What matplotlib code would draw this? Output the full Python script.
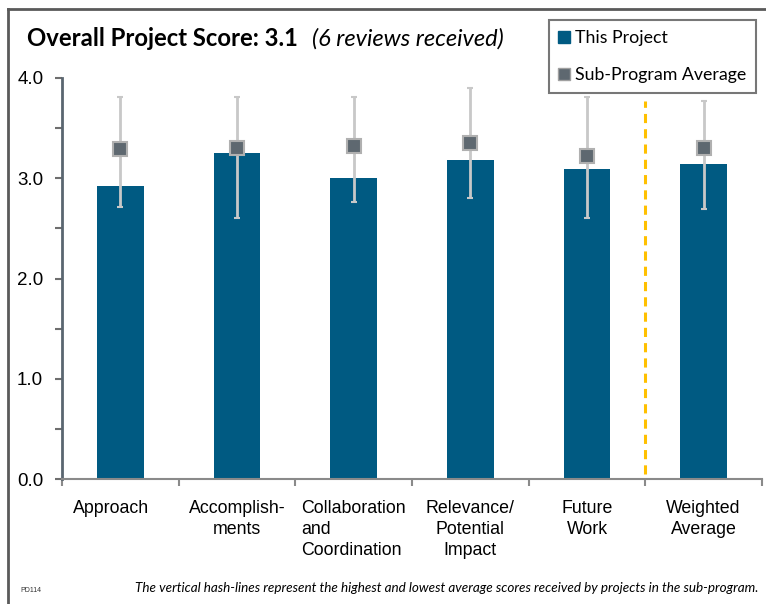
import matplotlib.pyplot as plt
from matplotlib.lines import Line2D
from matplotlib.ticker import MultipleLocator, FixedLocator

# data
categories = ['Approach', 'Accomplish-\nments', 'Collaboration\nand\nCoordination',
              'Relevance/\nPotential\nImpact', 'Future\nWork', 'Weighted\nAverage']
project_score = [2.92, 3.25, 3.00, 3.18, 3.09, 3.14]
subprogram_avg = [3.29, 3.30, 3.32, 3.35, 3.22, 3.30]
subprogram_high = [3.81, 3.81, 3.81, 3.90, 3.81, 3.77]
subprogram_low = [2.71, 2.60, 2.76, 2.80, 2.60, 2.69]

bar_color = '#005A82'
sq_color = '#5E6870'
err_color = '#C8C8C8'

plt.rcParams['font.family'] = ['Liberation Sans', 'DejaVu Sans']

fig = plt.figure(figsize=(7.66, 6.04), dpi=100)
ax = fig.add_axes([62 / 766, 1 - 479 / 604, 700 / 766, 401 / 604])

x = list(range(len(categories)))
ax.bar(x, project_score, width=0.4, color=bar_color, zorder=2)

lower = [a - l for a, l in zip(subprogram_avg, subprogram_low)]
upper = [h - a for a, h in zip(subprogram_avg, subprogram_high)]
ax.errorbar(x, subprogram_avg, yerr=[lower, upper], fmt='s', markersize=10,
            markerfacecolor=sq_color, markeredgecolor='#B0B0B0', markeredgewidth=1.5,
            ecolor=err_color, elinewidth=2, capsize=2, capthick=2, zorder=3)

# dashed separator before weighted average
ax.plot([4.5, 4.5], [0.05, 3.77], color='#FFC000', linestyle=(0, (3, 2)),
        linewidth=2.2, zorder=1)

ax.set_xlim(-0.5, 5.5)
ax.set_ylim(0, 4)
ax.yaxis.set_major_locator(MultipleLocator(1.0))
ax.yaxis.set_minor_locator(MultipleLocator(0.5))
ax.set_yticklabels([f'{v:.1f}' for v in ax.get_yticks()])
ax.tick_params(axis='y', which='both', direction='out', length=5, width=1.5,
               color='#6E6E6E', labelsize=13.5, pad=8.5)

# first label sits a bit left of its bar in the original, so draw it separately
ax.set_xticks(x)
ax.set_xticklabels([''] + categories[1:], fontsize=12.8, linespacing=1.3)
for lbl in ax.get_xticklabels():
    if lbl.get_text().startswith('Collaboration'):
        lbl.set_multialignment('left')
ax.annotate(categories[0], xy=(x[0], 0), xycoords=('data', 'axes fraction'),
            xytext=(-7, -15), textcoords='offset points', ha='center', va='top',
            fontsize=12.8)
ax.tick_params(axis='x', which='major', length=0, pad=15)
ax.xaxis.set_minor_locator(FixedLocator([-0.5, 0.5, 1.5, 2.5, 3.5, 4.5, 5.5]))
ax.tick_params(axis='x', which='minor', direction='out', length=5, width=1.5,
               color='#8A8A8A')

for side in ['top', 'right']:
    ax.spines[side].set_visible(False)
ax.spines['left'].set_color('#5A6670')
ax.spines['left'].set_linewidth(2)
ax.spines['bottom'].set_color('#8A8A8A')
ax.spines['bottom'].set_linewidth(1.5)

# title
fig.text(27 / 766, 1 - 39 / 604, 'Overall Project Score: 3.1', fontsize=17.2,
         fontweight='bold', family=['Lato', 'DejaVu Sans'], va='center')
fig.text(312 / 766, 1 - 39 / 604, '(6 reviews received)', fontsize=17,
         fontstyle='italic', family=['Lato', 'DejaVu Sans'], va='center')

# legend
handles = [Line2D([], [], marker='s', linestyle='none', markersize=9,
                  markerfacecolor=bar_color, markeredgecolor=bar_color),
           Line2D([], [], marker='s', linestyle='none', markersize=9,
                  markerfacecolor=sq_color, markeredgecolor='#A0A0A0')]
leg = fig.legend(handles, ['This Project', 'Sub-Program Average'],
                 loc='upper left', bbox_to_anchor=(549 / 766, 1 - 20 / 604),
                 prop={'family': 'Lato', 'size': 12.8}, frameon=True, fancybox=False,
                 labelspacing=1.2, handlelength=0.6, handletextpad=0.3,
                 borderpad=0.55, borderaxespad=0)
leg.get_frame().set_edgecolor('#555555')
leg.get_frame().set_linewidth(1.5)

# footer
fig.text(135 / 766, 1 - 588 / 604,
         'The vertical hash-lines represent the highest and lowest average scores received by projects in the sub-program.',
         fontsize=9.7, fontstyle='italic', family=['Lato', 'DejaVu Sans'], va='center')
fig.text(20 / 766, 1 - 591 / 604, 'PD114', fontsize=5, va='center', color='#333333')

# outer frame (left and top edges)
fig.add_artist(Line2D([7.5 / 766, 7.5 / 766], [0, 1 - 9 / 604], color='#5A5A5A',
                      linewidth=2, transform=fig.transFigure))
fig.add_artist(Line2D([7.5 / 766, 1], [1 - 9 / 604, 1 - 9 / 604], color='#5A5A5A',
                      linewidth=2, transform=fig.transFigure))

fig.savefig('out.png', dpi=100)
